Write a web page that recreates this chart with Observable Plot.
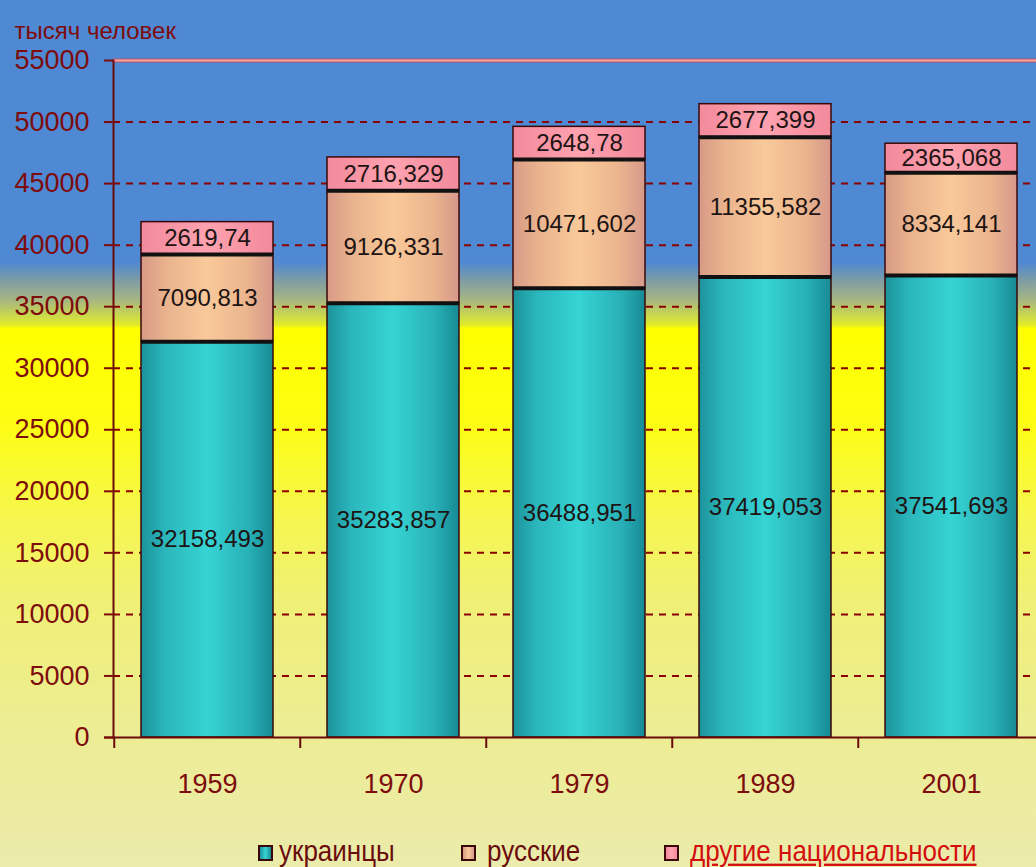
<!DOCTYPE html>
<html><head><meta charset="utf-8">
<script src="https://cdn.jsdelivr.net/npm/d3@7"></script>
<script src="https://cdn.jsdelivr.net/npm/@observablehq/plot@0.6"></script>
<style>
html,body{margin:0;padding:0;}
body{width:1036px;height:867px;overflow:hidden;position:relative;font-family:"Liberation Sans",Arial,sans-serif;
background:linear-gradient(to bottom,#4f88d3 0px,#4f88d3 262px,#7d9ca6 280px,#a6b682 300px,#d4e23c 320px,#e6ee22 326px,#ffff00 328px,#fdfd12 420px,#f6f650 520px,#f0f076 600px,#eded92 720px,#ebebac 867px);}
#chart svg{display:block;}
#legend{position:relative;height:37px;width:1036px;}
.item{position:absolute;top:8px;font-size:26px;line-height:26px;color:#6a0c0c;white-space:nowrap;transform:scaleY(1.15);transform-origin:left center;}
.sw{position:absolute;top:15px;width:11px;height:12px;border:2px solid #3a0808;}
</style></head><body>
<div id="chart"></div>
<div id="legend"></div>
<script>
const years = ["1959", "1970", "1979", "1989", "2001"];
const groups = ["украинцы", "русские", "другие национальности"];
const ukrainians = [32158.493, 35283.857, 36488.951, 37419.053, 37541.693];
const russians = [7090.813, 9126.331, 10471.602, 11355.582, 8334.141];
const others = [2619.74, 2716.329, 2648.78, 2677.399, 2365.068];
const yTicks = [0, 5000, 10000, 15000, 20000, 25000, 30000, 35000, 40000, 45000, 50000, 55000];
const axisTitle = "тысяч человек";

const series = [ukrainians, russians, others];
const data = years.flatMap((y, i) => groups.map((g, k) => ({year: y, group: g, value: series[k][i]})));
const fmt = v => String(v).replace(".", ",");
const dark = "#6b0a0a";

const chart = Plot.plot({
  width: 1036, height: 830,
  marginTop: 60, marginBottom: 93, marginLeft: 113, marginRight: 0,
  style: {background: "transparent", color: "#7d0c0c", fontFamily: "'Liberation Sans', Arial, sans-serif", overflow: "hidden"},
  x: {domain: years, range: [113, 1045.5], paddingInner: 0.29, paddingOuter: 0.145, align: 0.5, label: null},
  y: {domain: [0, 55000], label: null},
  color: {domain: groups, range: ["url(#gUkr)", "url(#gRus)", "url(#gOth)"]},
  marks: [
    Plot.ruleY(yTicks.filter(v => v > 0 && v < 55000), {stroke: "#8b0000", strokeWidth: 2, strokeDasharray: "7,6"}),
    Plot.ruleY([55000], {stroke: "#b05868", strokeWidth: 4}),
    Plot.ruleY([55000], {stroke: "#ffa2a2", strokeWidth: 2}),
    Plot.barY(data, Plot.stackY({x: "year", y: "value", z: "group", order: groups, fill: "group", stroke: "#3a0808", strokeWidth: 1.5})),
    Plot.tickY(data.filter(d => d.group !== groups[2]), Plot.stackY2({x: "year", y: "value", z: "group", order: groups, stroke: "#111", strokeWidth: 4})),
    Plot.text(data, Plot.stackY({x: "year", y: "value", z: "group", order: groups, text: d => fmt(d.value), fill: "#1e1414", fontSize: 24})),
    Plot.frame({anchor: "left", stroke: dark, strokeWidth: 2}),
    Plot.ruleY([0], {stroke: dark, strokeWidth: 2, insetLeft: -9}),
    Plot.ruleX(years, {x: d => d, dx: -93.25, y1: 0, y2: 0, insetBottom: -11, stroke: dark, strokeWidth: 2}),
    Plot.axisY({ticks: yTicks, tickFormat: d => String(d), tickSize: 9, tickPadding: 15, fontSize: 27, strokeWidth: 2, label: null}),
    Plot.axisX({tickSize: 0, tickPadding: 36, fontSize: 27, label: null}),
    Plot.text([axisTitle], {frameAnchor: "top-left", dx: -99, dy: -39, textAnchor: "start", fontSize: 24, fill: "#7d0c0c"})
  ]
});

// gradients for the bar fills
const NS = "http://www.w3.org/2000/svg";
const defs = document.createElementNS(NS, "defs");
const grads = {
  gUkr: [[0, "#1c929c"], [0.18, "#2ab6bb"], [0.5, "#36d4d4"], [0.82, "#28b0b6"], [1, "#168a95"]],
  gRus: [[0, "#d79a86"], [0.2, "#eab48e"], [0.5, "#f9c99a"], [0.8, "#ebb58e"], [1, "#d6988a"]],
  gOth: [[0, "#f28a9c"], [0.5, "#ffa2b0"], [1, "#f28a9c"]]
};
for (const [id, stops] of Object.entries(grads)) {
  const lg = document.createElementNS(NS, "linearGradient");
  lg.setAttribute("id", id);
  lg.setAttribute("x1", "0"); lg.setAttribute("x2", "1"); lg.setAttribute("y1", "0"); lg.setAttribute("y2", "0");
  for (const [o, c] of stops) {
    const s = document.createElementNS(NS, "stop");
    s.setAttribute("offset", o); s.setAttribute("stop-color", c);
    lg.appendChild(s);
  }
  defs.appendChild(lg);
}
chart.insertBefore(defs, chart.firstChild);
document.getElementById("chart").appendChild(chart);

// legend
const legend = document.getElementById("legend");
const swatchCss = [
  "linear-gradient(to right,#1c929c,#36d4d4,#168a95)",
  "linear-gradient(to right,#d79a86,#f9c99a,#d6988a)",
  "linear-gradient(to right,#f28a9c,#ffa2b0,#f28a9c)"
];
const swX = [258, 461, 664];
const txX = [279, 487, 690];
groups.forEach((g, i) => {
  const sw = document.createElement("div");
  sw.className = "sw";
  sw.style.left = swX[i] + "px";
  sw.style.background = swatchCss[i];
  legend.appendChild(sw);
  const t = document.createElement("div");
  t.className = "item";
  t.style.left = txX[i] + "px";
  t.textContent = g;
  if (i === 2) { t.style.color = "#d40e0e"; t.style.textDecoration = "underline"; }
  legend.appendChild(t);
});
</script>
</body></html>
